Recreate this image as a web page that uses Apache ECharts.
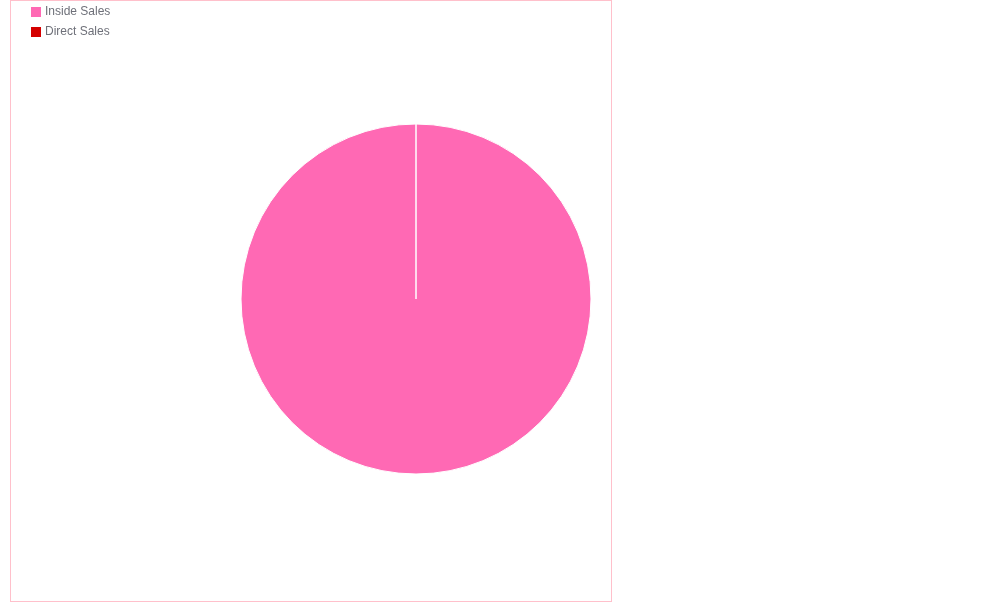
<!DOCTYPE html>
<html>
<head>
<meta charset="utf-8">
<script src="https://cdn.jsdelivr.net/npm/echarts@6/dist/echarts.min.js"></script>
<style>
html,body{margin:0;padding:0;background:#fff;}
#chart{position:absolute;left:10px;top:0;width:600px;height:600px;border:1px solid #ffc0cb;}
</style>
</head>
<body>
<div id="chart"></div>
<script>
var categories = ['Inside Sales', 'Direct Sales'];
var values = [100, 0];
var colors = ['#ff69b4', '#d40000'];

var chart = echarts.init(document.getElementById('chart'));
chart.setOption({
  animation: false,
  color: colors,
  legend: {
    orient: 'vertical',
    left: 13,
    top: 0,
    padding: [4, 5, 5, 5],
    itemWidth: 12,
    itemHeight: 12,
    itemGap: 6,
    icon: 'rect',
    textStyle: { color: '#6e7079', fontSize: 12, padding: [0, 0, 0, -2], fontFamily: 'Liberation Sans, Arial, sans-serif' },
    data: categories
  },
  series: [{
    type: 'pie',
    center: [405, 298],
    radius: 175,
    startAngle: 90,
    label: { show: false },
    labelLine: { show: false },
    itemStyle: { borderColor: '#fff', borderWidth: 1 },
    data: categories.map(function (c, i) { return { name: c, value: values[i] }; })
  }]
});
</script>
</body>
</html>
